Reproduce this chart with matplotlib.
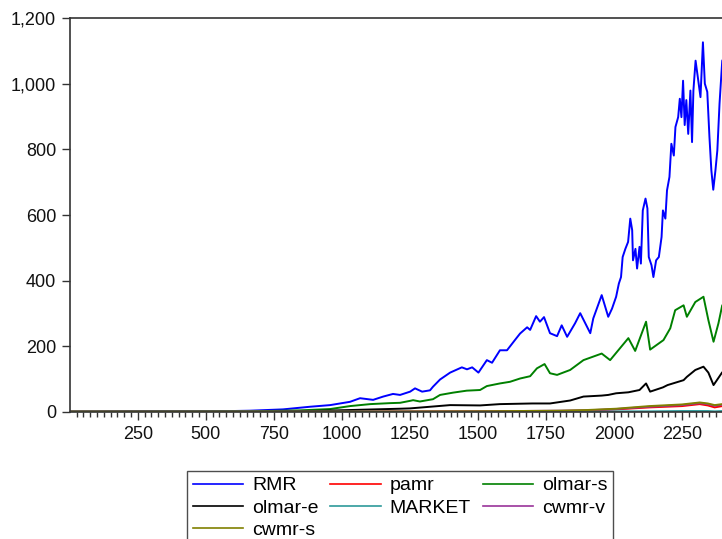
import numpy as np
import matplotlib
matplotlib.use("Agg")
import matplotlib.pyplot as plt
from matplotlib.ticker import MultipleLocator, FuncFormatter

# cumulative wealth (day index, value)
rmr_t = [1, 150, 295, 479, 600, 663, 784, 883, 957, 1030, 1067, 1115, 1152, 1188, 1214,
         1251, 1269, 1295, 1324, 1335, 1361, 1398, 1441, 1460, 1479, 1502, 1533, 1552, 1581,
         1607, 1636, 1655, 1681, 1692, 1714, 1728, 1743, 1765, 1791, 1808, 1828, 1857, 1876,
         1913, 1924, 1955, 1979, 1993, 2008, 2018, 2026, 2032, 2042, 2052, 2060, 2067, 2070,
         2079, 2085, 2094, 2099, 2106, 2116, 2123, 2128, 2138, 2145, 2155, 2165, 2175, 2180,
         2189, 2195, 2204, 2211, 2220, 2226, 2236, 2242, 2248, 2254, 2260, 2266, 2273, 2281,
         2287, 2292, 2300, 2309, 2318, 2327, 2334, 2343, 2351, 2358, 2365, 2373, 2380, 2388,
         2398, 2420]
rmr_v = [1, 2, 3, 3, 3, 4, 8, 16, 21, 31, 42, 37, 47, 55, 52,
         62, 72, 62, 66, 77, 99, 120, 136, 130, 136, 120, 158, 150, 188,
         188, 219, 239, 258, 250, 292, 275, 289, 240, 231, 264, 229, 270, 301,
         240, 285, 356, 290, 315, 351, 391, 411, 472, 497, 518, 589, 554, 462,
         497, 437, 503, 452, 614, 650, 620, 472, 447, 411, 462, 472, 533, 614,
         589, 675, 716, 817, 781, 868, 898, 954, 898, 1009, 874, 950, 847, 979,
         822, 979, 1070, 1015, 959, 1126, 1000, 975, 837, 736, 677, 736, 797, 939,
         1070, 1100]

olms_t = [1, 663, 846, 957, 1030, 1104, 1177, 1214, 1251, 1262, 1287, 1335, 1361, 1409, 1459,
          1508, 1533, 1581, 1618, 1655, 1692, 1717, 1745, 1765, 1791, 1839, 1888, 1955, 1986,
          2053, 2078, 2118, 2133, 2182, 2207, 2225, 2256, 2268, 2299, 2329, 2347, 2366, 2384,
          2398, 2420]
olms_v = [1, 2, 5, 9, 18, 24, 27, 28, 34, 36, 32, 39, 52, 59, 65,
          67, 79, 87, 92, 102, 109, 133, 146, 118, 113, 128, 158, 178, 158,
          225, 186, 275, 190, 219, 255, 310, 325, 290, 335, 351, 280, 214, 270,
          325, 340]

olme_t = [1, 663, 883, 1030, 1214, 1251, 1398, 1508, 1581, 1700, 1765, 1839, 1888, 1955, 1979,
          2008, 2053, 2094, 2118, 2133, 2180, 2197, 2256, 2268, 2299, 2329, 2347, 2366, 2398, 2420]
olme_v = [1, 1, 3, 6, 10, 11, 21, 20, 24, 26, 26, 35, 47, 50, 52,
          57, 60, 67, 87, 62, 75, 82, 97, 107, 128, 138, 120, 82, 121, 125]

small_t = [1, 1000, 1500, 1800, 1900, 2008, 2130, 2250, 2315, 2345, 2370, 2398, 2420]
pamr_v = [1, 1, 2, 3, 4, 8, 14, 18, 24, 20, 14, 18, 19]
market_v = [1, 1, 1, 2, 2, 2, 2, 3, 3, 3, 2, 3, 3]
cwmrv_v = [1, 1, 2, 4, 5, 9, 16, 21, 27, 24, 19, 22, 23]
cwmrs_v = [1, 1, 2, 4, 6, 10, 18, 23, 29, 26, 21, 24, 25]

plt.rcParams['font.family'] = ['Liberation Sans', 'DejaVu Sans']

fig = plt.figure(figsize=(7.22, 5.39), dpi=100)
# axes runs past the right edge, like the cropped original
ax = fig.add_axes([70 / 722, 127 / 539, 680 / 722, 394 / 539])

lw = 1.4
l_rmr, = ax.plot(rmr_t, rmr_v, color='#0000ff', lw=lw, label='RMR')
l_pamr, = ax.plot(small_t, pamr_v, color='#ff0000', lw=lw, label='pamr')
l_olms, = ax.plot(olms_t, olms_v, color='#008000', lw=lw, label='olmar-s')
l_olme, = ax.plot(olme_t, olme_v, color='#000000', lw=lw, label='olmar-e')
l_mkt, = ax.plot(small_t, market_v, color='#2e9a9a', lw=lw, label='MARKET')
l_cwv, = ax.plot(small_t, cwmrv_v, color='#993399', lw=lw, label='cwmr-v')
l_cws, = ax.plot(small_t, cwmrs_v, color='#808000', lw=lw, label='cwmr-s')

ax.set_xlim(1, 2500)
ax.set_ylim(0, 1200)
ax.yaxis.set_major_locator(MultipleLocator(200))
ax.yaxis.set_major_formatter(FuncFormatter(lambda v, p: f"{int(v):,}"))
ax.xaxis.set_major_locator(MultipleLocator(250))
ax.xaxis.set_minor_locator(MultipleLocator(25))
# 0 and 2500 are not labelled in the cropped original
ax.xaxis.set_major_formatter(FuncFormatter(lambda v, p: "" if v < 1 or v > 2400 else f"{int(v)}"))

for s in ax.spines.values():
    s.set_color('#333333')
    s.set_linewidth(1.2)
ax.tick_params(axis='both', which='major', direction='out', length=6, width=1,
               color='#333333', labelsize=13, labelcolor='#111111', pad=4)
ax.tick_params(axis='x', which='minor', direction='out', length=3.5, width=1, color='#333333')

handles = [l_rmr, l_olme, l_cws, l_pamr, l_mkt, l_olms, l_cwv]
leg = fig.legend(handles=handles, loc='upper left', bbox_to_anchor=(187 / 722, 1 - 471 / 539),
                 ncol=3, fontsize=14, frameon=True, fancybox=False, borderaxespad=0,
                 handlelength=2.6, handletextpad=0.45, columnspacing=0.6,
                 labelspacing=0.24, borderpad=0.3)
leg.get_frame().set_edgecolor('#222222')
leg.get_frame().set_linewidth(1)
for line in leg.get_lines():
    line.set_linewidth(1.2)

fig.savefig('out.png', dpi=100)
